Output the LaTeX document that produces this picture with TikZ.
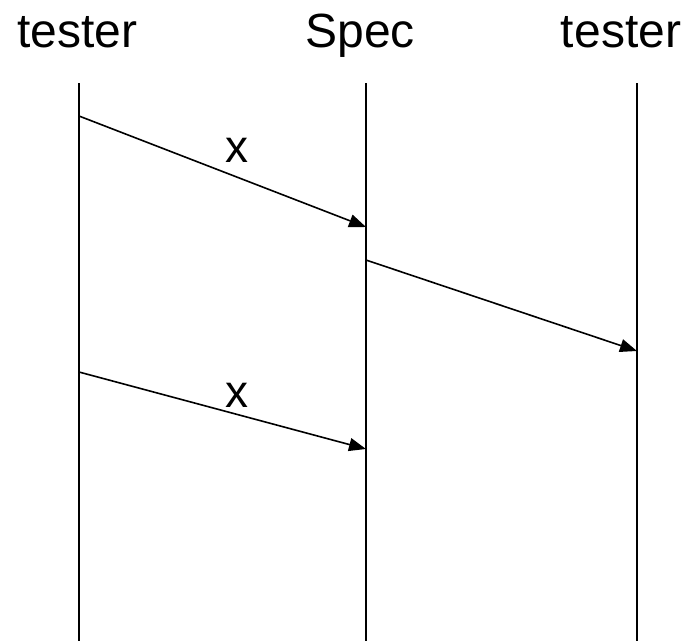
\documentclass[tikz,border=0pt]{standalone}
\usepackage{fontspec}
\setmainfont{Liberation Sans}
\usepackage{tikz}
\usetikzlibrary{arrows.meta}
\tikzstyle{actor} = [anchor=base, inner sep=0pt, font=\fontsize{48}{52}\selectfont]
\tikzstyle{life} = [line width=2pt]
\tikzstyle{msg} = [line width=1.6pt, -{Triangle[length=17pt,width=13pt]}]
\tikzstyle{lbl} = [inner sep=0pt, font=\fontsize{46}{50}\selectfont]

\begin{document}
\begin{tikzpicture}[x=1pt,y=-1pt]
			\useasboundingbox (0,0) rectangle (696,641);
			% heads
			\node[actor] (t1) at (77.5,47) {tester};
			\node[actor] (sp) at (360,47) {Spec};
			\node[actor] (t2) at (621,47) {tester};
			% lifelines
			\coordinate (a1) at (79,83);  \coordinate (a2) at (79,641);
			\coordinate (b1) at (366,83); \coordinate (b2) at (366,641);
			\coordinate (c1) at (637,83); \coordinate (c2) at (637,641);
			\draw[life] (a1) -- (a2);
			\draw[life] (b1) -- (b2);
			\draw[life] (c1) -- (c2);
			% messages
			\coordinate (m1s) at (79,116);  \coordinate (m1e) at (366,227);
			\coordinate (m2s) at (366,260); \coordinate (m2e) at (637,351);
			\coordinate (m3s) at (79,372);  \coordinate (m3e) at (366,449);
			\draw[msg] (m1s) -- (m1e);
			\draw[msg] (m2s) -- (m2e);
			\draw[msg] (m3s) -- (m3e);
			\node[lbl] (x1) at (237,150) {x};
			\node[lbl] (x2) at (237,395) {x};
		\end{tikzpicture}
\end{document}
